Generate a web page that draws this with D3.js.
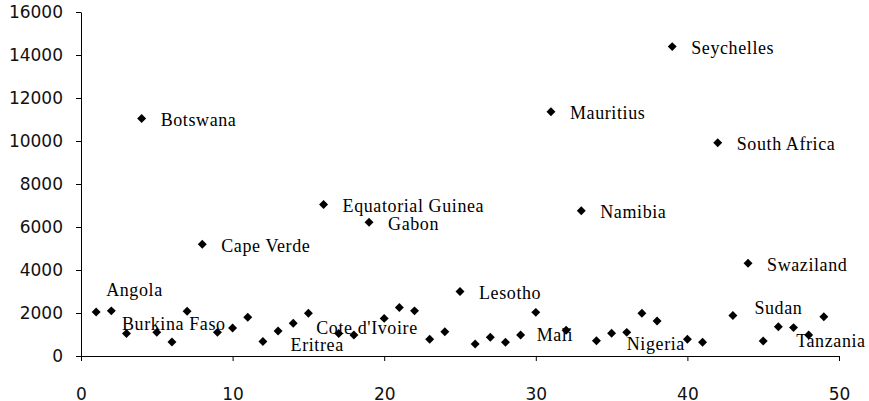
<!DOCTYPE html>
<html>
<head>
<meta charset="utf-8">
<script src="https://cdn.jsdelivr.net/npm/d3@7"></script>
<style>
  body { margin: 0; background: #fff; }
  svg { display: block; }
</style>
</head>
<body>
<div id="chart"></div>
<script>
// series values, one point per country index
var xValues = [1,2,3,4,5,6,7,8,9,10,11,12,13,14,15,16,17,18,19,20,21,22,23,24,25,
               26,27,28,29,30,31,32,33,34,35,36,37,38,39,40,41,42,43,44,45,46,47,48,49]
var yValues = [2050,2100,1050,11050,1100,650,2080,5200,1100,1300,1800,670,1160,1520,1990,
               7050,1050,980,6220,1750,2260,2100,780,1130,3000,560,870,640,980,2030,
               11360,1200,6760,710,1060,1100,1990,1630,14390,780,640,9920,1880,4310,
               700,1360,1320,980,1830]

// labelled points: name and the x index of the point it belongs to
var labelNames = ["Angola","Botswana","Burkina Faso","Cape Verde","Cote d'Ivoire",
                  "Equatorial Guinea","Eritrea","Gabon","Lesotho","Mali","Mauritius",
                  "Namibia","Nigeria","Seychelles","South Africa","Sudan","Swaziland","Tanzania"]
var labelAt = [1,4,3,8,14,16,13,19,25,29,31,33,36,39,42,43,44,48]

var xTicks = [0,10,20,30,40,50]
var yTicks = [0,2000,4000,6000,8000,10000,12000,14000,16000]

var width = 869, height = 401

var x = d3.scaleLinear().domain([0, 50]).range([81, 839])
var y = d3.scaleLinear().domain([0, 16000]).range([356, 12])

var svg = d3.select("#chart")
  .append("svg")
  .attr("width", width)
  .attr("height", height)

svg.append("rect")
  .attr("width", width).attr("height", height)
  .attr("fill", "#fff")

// axes
svg.append("g")
  .attr("transform", "translate(0,356)")
  .call(d3.axisBottom(x).tickValues(xTicks).tickFormat(d3.format("d"))
          .tickSize(5).tickSizeOuter(0).tickPadding(27))
svg.append("g")
  .attr("transform", "translate(81,0)")
  .call(d3.axisLeft(y).tickValues(yTicks).tickFormat(d3.format("d"))
          .tickSize(5).tickSizeOuter(0).tickPadding(13))

svg.selectAll(".tick text")
  .attr("font-family", "DejaVu Sans")
  .attr("font-size", 17)
  .attr("fill", "#111")
svg.selectAll(".domain, .tick line").attr("stroke", "#000")

// markers
var points = xValues.map((v, i) => ({x: v, y: yValues[i]}))
var diamond = d3.symbol().type(d3.symbolSquare).size(40)

svg.append("g")
  .selectAll("path")
  .data(points)
  .join("path")
    .attr("d", diamond)
    .attr("fill", "#000")
    .attr("transform", d => `translate(${x(d.x)},${y(d.y)}) rotate(45)`)

// labels sit right of the point unless they were moved in the original
var moved = {
  "Angola": [10, -16],
  "Burkina Faso": [-4.5, -3],
  "Cote d'Ivoire": [23, 10.5],
  "Eritrea": [12.5, 19.5],
  "Mali": [16, 6.5],
  "Nigeria": [0, 18],
  "Sudan": [21.5, -2],
  "Tanzania": [-12.5, 12.5]
}

svg.append("g")
  .selectAll("text")
  .data(labelNames)
  .join("text")
    .attr("font-family", "Liberation Serif")
    .attr("font-size", 18)
    .attr("letter-spacing", "0.6px")
    .attr("fill", "#000")
    .attr("x", (d, i) => x(labelAt[i]) + (moved[d] ? moved[d][0] : 19))
    .attr("y", (d, i) => y(yValues[labelAt[i] - 1]) + (moved[d] ? moved[d][1] : 7.5))
    .text(d => d)
</script>
</body>
</html>
